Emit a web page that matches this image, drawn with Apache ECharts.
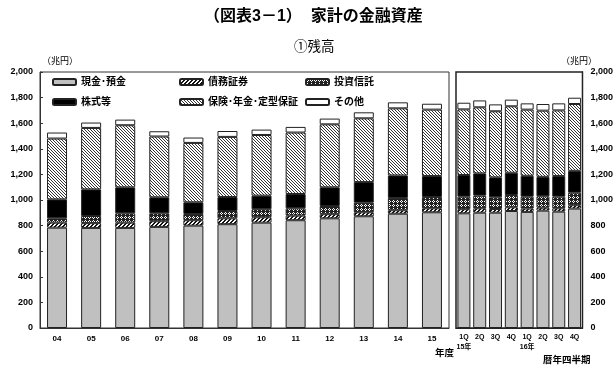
<!DOCTYPE html>
<html><head><meta charset="utf-8">
<script src="https://cdn.jsdelivr.net/npm/echarts@6/dist/echarts.min.js"></script>
<style>html,body{margin:0;padding:0;background:#fff}#c{width:616px;height:369px}</style>
</head><body><div id="c"></div>
<script>
// ---- data ----
const years = ['04','05','06','07','08','09','10','11','12','13','14','15'];
const cash      = [784,782,782,790,800,811,823,842,857,873,893,904];
const bonds     = [39,37,41,44,42,46,42,36,32,31,27,31];
const invest    = [34,56,73,62,49,57,63,57,64,75,96,88];
const equity    = [148,208,203,125,91,109,106,112,146,161,176,164];
const insurance = [475,480,485,475,464,470,474,480,492,498,524,519];
const other     = [47,42,44,41,42,46,42,44,45,47,47,46];

const quarters = ['1Q\n15年','2Q','3Q','4Q','1Q\n16年','2Q','3Q','4Q'];
const qCash      = [896,901,901,914,907,917,909,933];
const qBonds     = [32,34,29,29,26,23,26,26];
const qInvest    = [98,99,91,96,93,89,91,98];
const qEquity    = [169,174,156,174,163,152,161,171];
const qInsurance = [513,516,516,519,517,517,513,522];
const qOther     = [52,54,54,52,49,52,55,49];

const seriesNames = ['現金･預金','債務証券','投資信託','株式等','保険･年金･定型保証','その他'];
const yTicks = {min:0, max:2000, interval:200};

// ---- patterns ----
function pat(rows, on, off){
  const h = rows.length, w = rows[0].length;
  const c = document.createElement('canvas'); c.width = w; c.height = h;
  const g = c.getContext('2d');
  for (let y=0;y<h;y++) for (let x=0;x<w;x++){
    g.fillStyle = rows[y][x]==='X' ? on : off; g.fillRect(x,y,1,1);
  }
  return {image:c, repeat:'repeat'};
}
const fills = [
  '#c0c0c0',
  pat(['XX..','X..X','..XX','.XX.'], '#111', '#fff'),
  pat(['X.XX','.X.X','X.XX','XXXX'], '#222', '#fff'),
  '#000',
  pat(['X..','.X.','..X'], '#333', '#fff'),
  '#fff'
];

const FF = "'Liberation Sans','Noto Sans CJK JP',sans-serif";
const chart = echarts.init(document.getElementById('c'), null, {renderer:'canvas'});

function mk(name, idx, data, g){
  return {
    name, type:'bar', stack: g===0?'a':'b', xAxisIndex:g, yAxisIndex:g,
    barWidth: g===0?20:13, data,
    itemStyle:{color:fills[idx], borderColor:'#222', borderWidth:1},
    emphasis:{disabled:true}, animation:false
  };
}
const leftData = [cash,bonds,invest,equity,insurance,other];
const rightData = [qCash,qBonds,qInvest,qEquity,qInsurance,qOther];
const series = [];
seriesNames.forEach((n,i)=>series.push(mk(n,i,leftData[i],0)));
seriesNames.forEach((n,i)=>series.push(mk(n,i,rightData[i],1)));

const legTxt = {fontSize:10, fontWeight:'bold', color:'#000', fontFamily:FF, lineHeight:12};
function leg(left, names){
  return {orient:'vertical', left, top:76, padding:0, itemGap:8, itemWidth:23, itemHeight:6,
    icon:'roundRect', textStyle:legTxt, data:names, selectedMode:false};
}

const yLab = {fontSize:9, fontWeight:'bold', color:'#000', fontFamily:FF,
  formatter:v=>v.toLocaleString('en-US')};

chart.setOption({
  animation:false,
  textStyle:{fontFamily:FF},
  title:[
    {text:'（図表3－1）  家計の金融資産', left:204, top:7, padding:0,
     textStyle:{fontSize:16, fontWeight:'bold', color:'#000', fontFamily:FF, lineHeight:20}},
    {text:'①残高', left:294, top:39, padding:0,
     textStyle:{fontSize:13.5, fontWeight:'normal', color:'#000', fontFamily:FF, lineHeight:16}}
  ],
  legend:[leg(52,[seriesNames[0],seriesNames[3]]), leg(179,[seriesNames[1],seriesNames[4]]), leg(305,[seriesNames[2],seriesNames[5]])],
  grid:[
    {left:40, top:72, width:409, height:256, show:true, borderColor:'#333', borderWidth:1, backgroundColor:'transparent'},
    {left:456, top:72, width:128, height:256, show:true, borderColor:'#222', borderWidth:1.5, backgroundColor:'transparent'}
  ],
  xAxis:[
    {type:'category', gridIndex:0, data:years,
     axisLine:{lineStyle:{color:'#333'}}, axisTick:{inside:true, length:2, lineStyle:{color:'#888'}},
     axisLabel:{fontSize:8, fontWeight:'bold', color:'#000', margin:7, fontFamily:FF}},
    {type:'category', gridIndex:1, data:quarters,
     axisLine:{lineStyle:{color:'#222'}}, axisTick:{show:false},
     axisLabel:{fontSize:7, fontWeight:'bold', color:'#000', margin:4, lineHeight:10, fontFamily:FF, interval:0}}
  ],
  yAxis:[
    Object.assign({type:'value', gridIndex:0, position:'left',
     axisLine:{show:true, lineStyle:{color:'#333'}}, axisTick:{show:true, inside:true, length:3, lineStyle:{color:'#333'}},
     splitLine:{show:false}, axisLabel:Object.assign({margin:7}, yLab)}, yTicks),
    Object.assign({type:'value', gridIndex:1, position:'right',
     axisLine:{show:true, lineStyle:{color:'#222'}}, axisTick:{show:false},
     splitLine:{show:false}, axisLabel:Object.assign({margin:8}, yLab)}, yTicks)
  ],
  graphic:[
    {type:'text', left:42, top:57, style:{text:'（兆円）', fontSize:9, fill:'#000', fontFamily:FF}},
    {type:'text', left:561, top:57, style:{text:'（兆円）', fontSize:9, fill:'#000', fontFamily:FF}},
    {type:'text', left:435, top:349, style:{text:'年度', fontSize:9.5, fontWeight:'bold', fill:'#000', fontFamily:FF}},
    {type:'text', left:543, top:356, style:{text:'暦年四半期', fontSize:9.5, fontWeight:'bold', fill:'#000', fontFamily:FF}}
  ],
  series
});
</script></body></html>
